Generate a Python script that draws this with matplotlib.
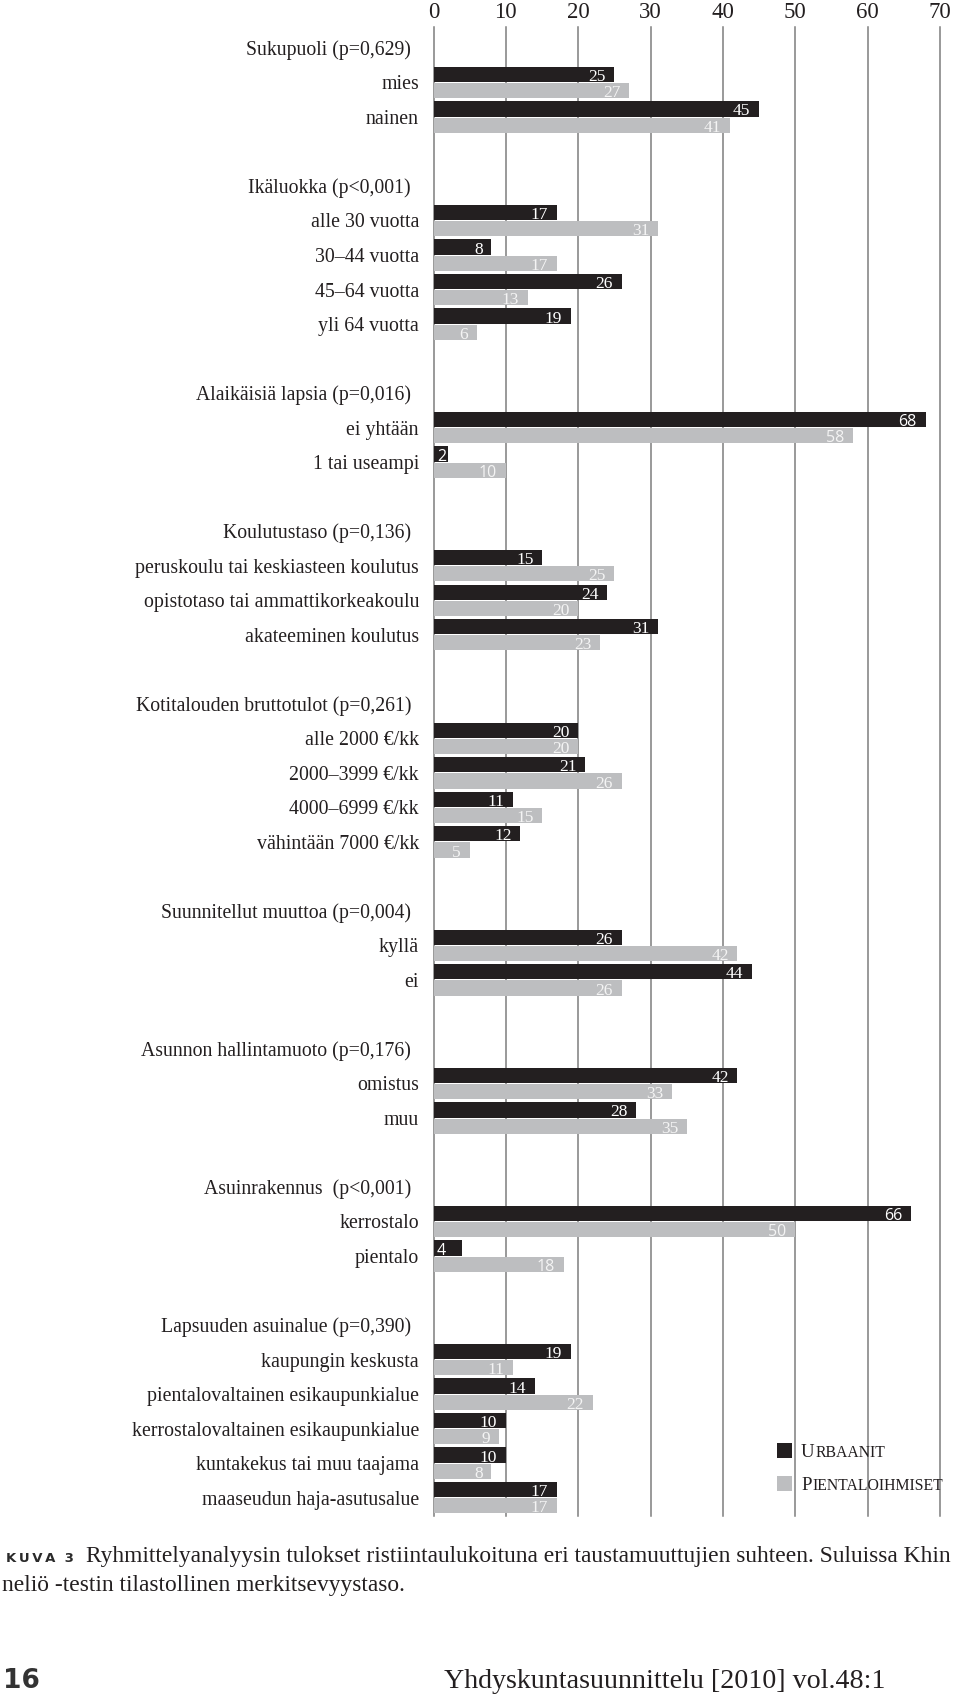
import matplotlib
matplotlib.use("Agg")
import matplotlib.pyplot as plt
from matplotlib.patches import Rectangle

# ---------------- data ----------------
group_titles = [
    "Sukupuoli (p=0,629)",
    "Ikäluokka (p<0,001)",
    "Alaikäisiä lapsia (p=0,016)",
    "Koulutustaso (p=0,136)",
    "Kotitalouden bruttotulot (p=0,261)",
    "Suunnitellut muuttoa (p=0,004)",
    "Asunnon hallintamuoto (p=0,176)",
    "Asuinrakennus  (p<0,001)",
    "Lapsuuden asuinalue (p=0,390)",
]
group_categories = [
    ["mies", "nainen"],
    ["alle 30 vuotta", "30–44 vuotta", "45–64 vuotta", "yli 64 vuotta"],
    ["ei yhtään", "1 tai useampi"],
    ["peruskoulu tai keskiasteen koulutus", "opistotaso tai ammattikorkeakoulu",
     "akateeminen koulutus"],
    ["alle 2000 €/kk", "2000–3999 €/kk", "4000–6999 €/kk", "vähintään 7000 €/kk"],
    ["kyllä", "ei"],
    ["omistus", "muu"],
    ["kerrostalo", "pientalo"],
    ["kaupungin keskusta", "pientalovaltainen esikaupunkialue",
     "kerrostalovaltainen esikaupunkialue", "kuntakekus tai muu taajama",
     "maaseudun haja-asutusalue"],
]
urbaanit = [
    [25, 45],
    [17, 8, 26, 19],
    [68, 2],
    [15, 24, 31],
    [20, 21, 11, 12],
    [26, 44],
    [42, 28],
    [66, 4],
    [19, 14, 10, 10, 17],
]
pientaloihmiset = [
    [27, 41],
    [31, 17, 13, 6],
    [58, 10],
    [25, 20, 23],
    [20, 26, 15, 5],
    [42, 26],
    [33, 35],
    [50, 18],
    [11, 22, 9, 8, 17],
]
x_ticks = [0, 10, 20, 30, 40, 50, 60, 70]
legend_labels = ["Urbaanit", "Pientaloihmiset"]
caption_tag = "K\u2009U\u2009V\u2009A  3"
caption_text = ("Ryhmittelyanalyysin tulokset ristiintaulukoituna eri taustamuuttujien "
                "suhteen. Suluissa Khin")
caption_text2 = "neliö -testin tilastollinen merkitsevyystaso."
page_number = "16"
journal = "Yhdyskuntasuunnittelu [2010] vol.48:1"

# ---------------- style ----------------
BLACK = "#231f20"
GREY = "#bdbec0"
GRID = "#7d7d7d"
SERIF = "Liberation Serif"
SANS_VALUE_GROUPS = {2, 7}

W, H = 960, 1695
fig = plt.figure(figsize=(W / 100, H / 100), dpi=100)
fig.patch.set_facecolor("white")


def fx(px):
    return px / W


def fy(py):
    return 1 - py / H


ax_left, ax_right, ax_top, ax_bottom = 433.5, 940.0, 26.7, 1516.0
ax = fig.add_axes([fx(ax_left), fy(ax_bottom),
                   (ax_right - ax_left) / W, (ax_bottom - ax_top) / H])

# row layout: header, categories, blank
rows_header = []
rows_cat = []
row = 0
for cats in group_categories:
    rows_header.append(row)
    row += 1
    rows_cat.append(list(range(row, row + len(cats))))
    row += len(cats) + 1
last_row = rows_cat[-1][-1]

ax.set_xlim(0, 70)
ax.set_ylim(last_row + 0.53, -0.617)

for t in x_ticks:
    ax.axvline(t, color=GRID, lw=1.1, zorder=0, clip_on=False)

for s in ax.spines.values():
    s.set_visible(False)
ax.xaxis.tick_top()
ax.set_xticks(x_ticks)
ax.set_xticklabels([str(t) for t in x_ticks], fontsize=16.5, family=SERIF, color=BLACK)
ax.tick_params(axis="x", length=0, pad=3)
ax.set_yticks([])

h = 0.44
off = 0.235
pad_units = 1.2
ytrans = ax.get_yaxis_transform()
label_x = (419 - ax_left) / (ax_right - ax_left)
header_x = (411 - ax_left) / (ax_right - ax_left)

for gi, title in enumerate(group_titles):
    ax.text(header_x, rows_header[gi] + 0.2, title, transform=ytrans,
            ha="right", va="baseline", fontsize=14.2, family=SERIF, color=BLACK)
    vfont = "Open Sans" if gi in SANS_VALUE_GROUPS else SERIF
    vsize = 11.5 if gi in SANS_VALUE_GROUPS else 12.5
    for ci, cat in enumerate(group_categories[gi]):
        r = rows_cat[gi][ci]
        ax.text(label_x, r + 0.2, cat, transform=ytrans,
                ha="right", va="baseline", fontsize=14.3, family=SERIF, color=BLACK)
        u = urbaanit[gi][ci]
        p = pientaloihmiset[gi][ci]
        ax.barh(r - off, u, height=h, color=BLACK, zorder=2)
        ax.barh(r + off, p, height=h, color=GREY, zorder=2)
        for val, yb, col in ((u, r - 0.045, "white"), (p, r + 0.425, "#f4f4f4")):
            if val < 5:
                ax.text(0.5, yb, str(val), ha="left", va="baseline",
                        fontsize=vsize, family=vfont, color=col, zorder=3)
            else:
                ax.text(val - pad_units, yb, str(val), ha="right", va="baseline",
                        fontsize=vsize, family=vfont, color=col, zorder=3)

# ---------------- legend (small caps imitation) ----------------
for i, (lab, col) in enumerate(zip(legend_labels, [BLACK, GREY])):
    y0 = 1443 + i * 32.5
    fig.add_artist(Rectangle((fx(777), fy(y0 + 15)), 15 / W, 15 / H,
                             transform=fig.transFigure, facecolor=col, edgecolor="none"))
    first = fig.text(fx(801), fy(y0 + 14), lab[0].upper(), fontsize=13.5,
                     family=SERIF, color=BLACK, ha="left", va="baseline")
    ax.annotate(lab[1:].upper(), xy=(1, 0), xycoords=first,
                xytext=(0.6, 0), textcoords="offset points",
                ha="left", va="bottom", fontsize=11.3, family=SERIF,
                color=BLACK, annotation_clip=False)

# ---------------- caption and footer ----------------
fig.text(fx(6), fy(1562), caption_tag, fontsize=9.5, family="DejaVu Sans",
         weight="bold", color="#2a2a2a", ha="left", va="baseline")
fig.text(fx(86), fy(1562), caption_text, fontsize=16.9, family=SERIF,
         color=BLACK, ha="left", va="baseline")
fig.text(fx(2), fy(1591), caption_text2, fontsize=16.9, family=SERIF,
         color=BLACK, ha="left", va="baseline")
fig.text(fx(3), fy(1688), page_number, fontsize=19, family="DejaVu Sans",
         weight="bold", color="#333333", ha="left", va="baseline")
fig.text(fx(444), fy(1688), journal, fontsize=20.2, family=SERIF,
         color=BLACK, ha="left", va="baseline")

fig.savefig("out.png", dpi=100, facecolor="white")
